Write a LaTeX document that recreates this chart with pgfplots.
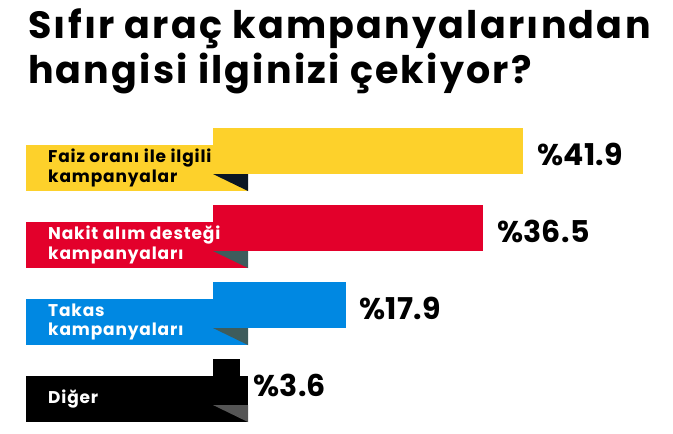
\documentclass[border=0pt]{standalone}
\usepackage{fontspec}
\setmainfont{Poppins}
\newfontfamily\titlefont{Poppins}[LetterSpace=5.8]
\newfontfamily\labfont{Poppins}[LetterSpace=5]
\newfontfamily\numfont{Poppins}[LetterSpace=1]
\usepackage{pgfplots}
\pgfplotsset{compat=1.18}
\definecolor{cyel}{HTML}{FDD12B}
\definecolor{cred}{HTML}{E3002B}
\definecolor{cblu}{HTML}{0088E2}
\definecolor{cblk}{HTML}{000000}
\definecolor{tyel}{HTML}{0A1623}
\definecolor{tred}{HTML}{3E5C5C}
\definecolor{tblk}{HTML}{555555}
\begin{document}
\begin{tikzpicture}
\begin{axis}[
  scale only axis, width=673pt, height=433pt,
  xmin=-28.745, xmax=62.078,
  ymin=-1.961, ymax=3.662, y dir=reverse,
  hide axis, clip=false,
  xbar, bar width=46pt,
  /pgf/number format/assume math mode=true,
  nodes near coords={\%\pgfmathprintnumber[fixed,precision=1,assume math mode=true]{\pgfplotspointmeta}},
  every node near coord/.append style={anchor=west, xshift=10pt, yshift=-3pt, text=black,
     font=\numfont\fontsize{30}{32}\selectfont\bfseries},
]
\addplot[fill=cyel, draw=none, bar shift=0pt] coordinates {(41.9,0)};
\addplot[fill=cred, draw=none, bar shift=0pt] coordinates {(36.5,1)};
\addplot[fill=cblu, draw=none, bar shift=0pt] coordinates {(17.9,2)};
\addplot[fill=cblk, draw=none, bar shift=0pt] coordinates {(3.6,3)};
% label boxes and folds
\fill[cyel] (axis cs:-25.24,-0.0779) rectangle (axis cs:4.723,0.5195);
\fill[tyel] (axis cs:0,0.2987) -- (axis cs:4.723,0.2987) -- (axis cs:4.723,0.5195) -- cycle;
\fill[cred] (axis cs:-25.24,0.9221) rectangle (axis cs:4.723,1.5195);
\fill[tred] (axis cs:0,1.2987) -- (axis cs:4.723,1.2987) -- (axis cs:4.723,1.5195) -- cycle;
\fill[cblu] (axis cs:-25.24,1.9221) rectangle (axis cs:4.723,2.5195);
\fill[tred] (axis cs:0,2.2987) -- (axis cs:4.723,2.2987) -- (axis cs:4.723,2.5195) -- cycle;
\fill[cblk] (axis cs:-25.24,2.9221) rectangle (axis cs:4.723,3.5195);
\fill[tblk] (axis cs:0,3.2987) -- (axis cs:4.723,3.2987) -- (axis cs:4.723,3.5195) -- cycle;
% category labels
\begin{scope}[every node/.style={anchor=west, align=left, inner sep=0pt,
   font=\labfont\fontsize{17}{19.5}\selectfont\bfseries}]
\node[text=black] at (axis cs:-22.27,0.2208) {Faiz oranı ile ilgili\\kampanyalar};
\node[text=white] at (axis cs:-22.27,1.2208) {Nakit alım desteği\\kampanyaları};
\node[text=white] at (axis cs:-22.27,2.2208) {Takas\\kampanyaları};
\node[text=white] at (axis cs:-22.27,3.2208) {Diğer};
\end{scope}
% title
\node[anchor=base west, inner sep=0pt, font=\titlefont\fontsize{38}{45}\selectfont\bfseries]
  at (axis cs:-24.97,-1.4675) {Sıfır araç kampanyalarından};
\node[anchor=base west, inner sep=0pt, font=\titlefont\fontsize{38}{45}\selectfont\bfseries]
  at (axis cs:-24.97,-0.883) {hangisi ilginizi çekiyor?};
\end{axis}
\pgfresetboundingbox
\path (current axis.south west) rectangle (current axis.north east);
\end{tikzpicture}
\end{document}
